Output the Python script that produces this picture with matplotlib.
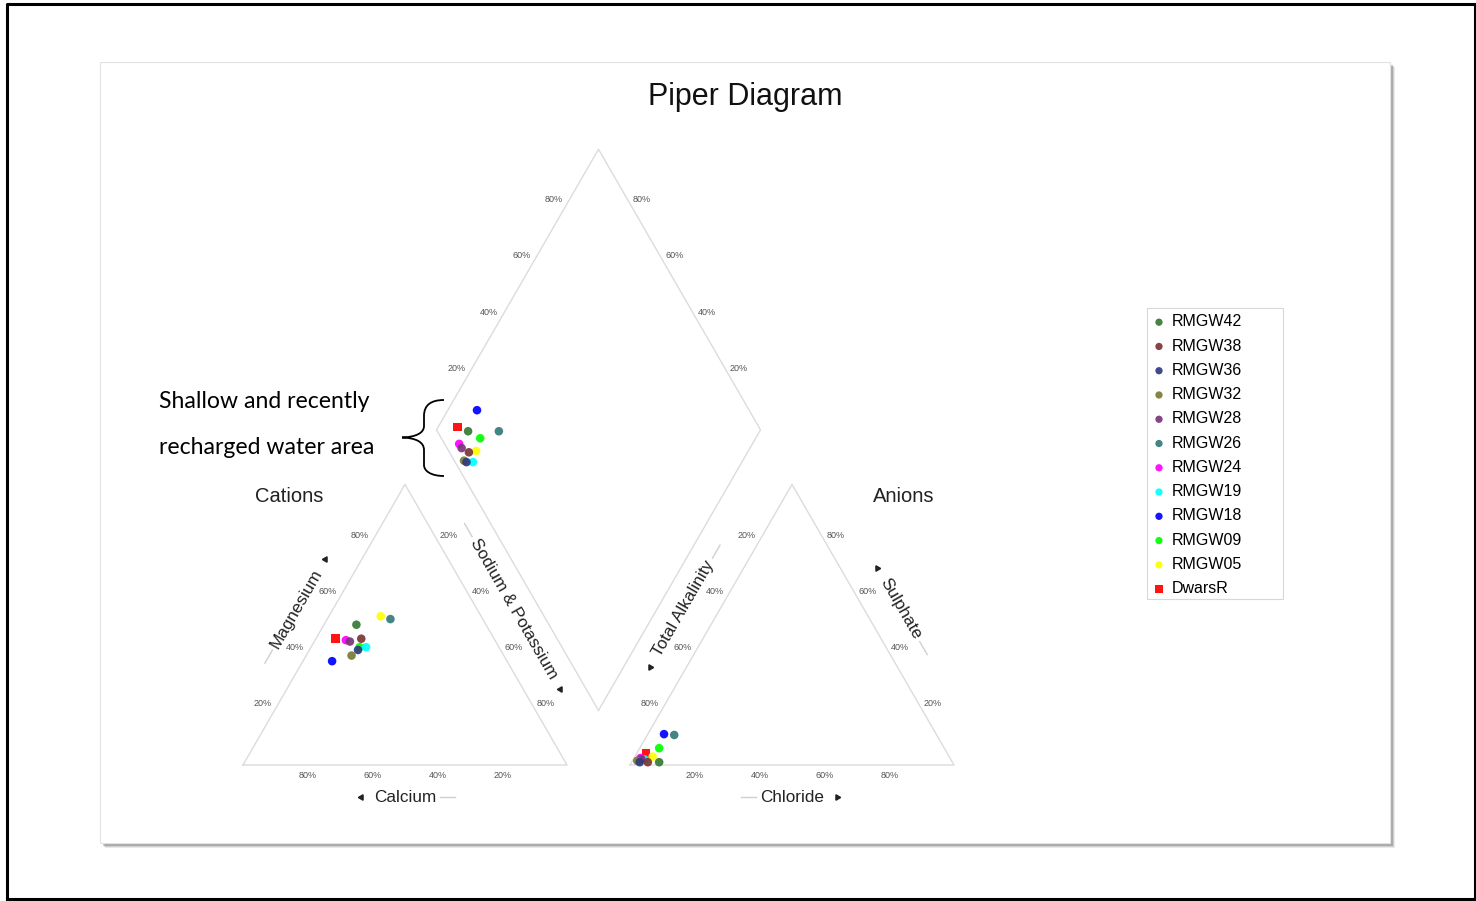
import numpy as np
import matplotlib.pyplot as plt
from matplotlib.patches import Rectangle, PathPatch
from matplotlib.path import Path
from matplotlib.textpath import TextPath
from matplotlib.font_manager import FontProperties

plt.rcParams['font.family'] = ['Liberation Sans', 'DejaVu Sans']

# sample names and colours (legend order)
samples = ['RMGW42', 'RMGW38', 'RMGW36', 'RMGW32', 'RMGW28', 'RMGW26',
           'RMGW24', 'RMGW19', 'RMGW18', 'RMGW09', 'RMGW05', 'DwarsR']
colours = ['#357a35', '#7b3535', '#2e3a80', '#7a7a35', '#7a357a', '#357a7a',
           '#ff00ff', '#00ffff', '#0000ff', '#00ff00', '#ffff00', '#ff0000']
markers = ['o'] * 11 + ['s']

# cations, % meq
ca = [40, 41, 44, 47, 45, 28.5, 46, 41, 54, 43, 31, 49]
mg = [50, 45, 41, 39, 44, 52, 44.5, 42, 37, 42, 53, 45]
nak = [10, 14, 15, 14, 11, 19.5, 9.5, 17, 9, 15, 16, 6]

# anions, % meq
alk = [90.5, 94, 96.5, 97, 95.5, 81, 95.5, 94.5, 84, 88, 91.5, 93]
so4 = [1, 1, 1, 1.5, 2, 10.7, 2.5, 2, 11, 6, 3, 4]
cl = [8.5, 5, 2.5, 1.5, 2.5, 8.3, 2, 3.5, 5, 6, 5.5, 3]

ticks = [20, 40, 60, 80]

# ---- geometry (pixels, y downwards)
SIDE = 324.0
H = SIDE * np.sqrt(3) / 2
BASE_Y = 765.0
CAT_X0 = 243.0
GAP = 63.0
AN_X0 = CAT_X0 + SIDE + GAP

cat_bl = np.array([CAT_X0, BASE_Y])
cat_br = cat_bl + [SIDE, 0]
cat_top = cat_bl + [SIDE / 2, -H]
an_bl = np.array([AN_X0, BASE_Y])
an_br = an_bl + [SIDE, 0]
an_top = an_bl + [SIDE / 2, -H]
dia_b = np.array([CAT_X0 + SIDE + GAP / 2, BASE_Y - GAP / 2 * np.sqrt(3)])
dia_l = dia_b + [-SIDE / 2, -H]
dia_r = dia_b + [SIDE / 2, -H]
dia_t = dia_b + [0, -2 * H]


def tern(a, b, c, va, vb, vc):
    a = np.asarray(a) / 100.0
    b = np.asarray(b) / 100.0
    c = np.asarray(c) / 100.0
    tot = a + b + c
    a, b, c = a / tot, b / tot, c / tot
    return np.outer(a, va) + np.outer(b, vb) + np.outer(c, vc)


cat_xy = tern(ca, mg, nak, cat_bl, cat_top, cat_br)
an_xy = tern(alk, so4, cl, an_bl, an_top, an_br)
camg = (np.array(ca) + np.array(mg)) / (np.array(ca) + np.array(mg) + np.array(nak))
so4cl = (np.array(so4) + np.array(cl)) / (np.array(alk) + np.array(so4) + np.array(cl))
dia_xy = dia_b + np.outer(camg, dia_l - dia_b) + np.outer(so4cl, dia_r - dia_b)

fig = plt.figure(figsize=(14.76, 9.01), dpi=100)
ax = fig.add_axes([0, 0, 1, 1])
ax.set_xlim(0, 1476)
ax.set_ylim(901, 0)
ax.axis('off')

# page border and panel with shadow
ax.plot([6.5, 6.5, 1475, 1475, 6.5], [899, 4, 4, 899, 899], color='black', lw=2.2, zorder=1)
for k, a in enumerate([0.12, 0.18, 0.3]):
    ax.add_patch(Rectangle((100 + 5 - k, 62 + 5 - k), 1290, 781, facecolor='#555555',
                           alpha=a, edgecolor='none', zorder=1))
ax.add_patch(Rectangle((100, 62), 1290, 781, facecolor='white', edgecolor='#e2e2e2',
                       lw=0.8, zorder=2))

edge_kw = dict(color='#dcdcdc', lw=1.0, zorder=3)
for poly in [[cat_bl, cat_top, cat_br, cat_bl], [an_bl, an_top, an_br, an_bl],
             [dia_b, dia_l, dia_t, dia_r, dia_b]]:
    poly = np.array(poly)
    ax.plot(poly[:, 0], poly[:, 1], **edge_kw)

tick_kw = dict(fontsize=6.5, color='#555555', ha='center', va='center', zorder=4)


def edge_ticks(p0, p1, offset):
    for v in ticks:
        pt = p0 + v / 100.0 * (p1 - p0) + offset
        ax.text(pt[0], pt[1], f'{v}%', **tick_kw)


edge_ticks(cat_bl, cat_top, (-12.5, -5.5))
edge_ticks(cat_top, cat_br, (11, -5.5))
edge_ticks(cat_br, cat_bl, (0, 10))
edge_ticks(an_top, an_bl, (-12.5, -5.5))
edge_ticks(an_br, an_top, (11, -5.5))
edge_ticks(an_bl, an_br, (0, 10))
edge_ticks(dia_l, dia_t, (-12.5, -5.5))
edge_ticks(dia_r, dia_t, (11, -5.5))

fp = FontProperties(family='Liberation Sans')


def axis_title(p0, p1, label, normal, size=12.3):
    d = (p1 - p0) / np.linalg.norm(p1 - p0)
    c = (p0 + p1) / 2 + 32 * np.array(normal)
    ang = np.degrees(np.arctan2(-d[1], d[0]))
    rot = ang
    if rot > 90:
        rot -= 180
    if rot <= -90:
        rot += 180
    ax.text(c[0], c[1], label, fontsize=size, color='#222222', rotation=rot,
            rotation_mode='anchor', ha='center', va='center', zorder=4)
    half = TextPath((0, 0), label, size=size, prop=fp).get_extents().width * 100 / 72 / 2
    tip = c + d * (half + 14)
    ax.plot(tip[0], tip[1], marker=(3, 0, ang - 90), ms=4.5, color='#222222', zorder=4)
    l0 = c - d * (half + 5)
    l1 = c - d * (half + 20)
    ax.plot([l0[0], l1[0]], [l0[1], l1[1]], color='#d0d0d0', lw=1, zorder=4)


s3 = np.sqrt(3) / 2
axis_title(cat_bl, cat_top, 'Magnesium', (-s3, -0.5))
axis_title(cat_top, cat_br, 'Sodium & Potassium', (s3, -0.5))
axis_title(cat_br, cat_bl, 'Calcium', (0, 1))
axis_title(an_top, an_bl, 'Total Alkalinity', (-s3, -0.5))
axis_title(an_br, an_top, 'Sulphate', (s3, -0.5))
axis_title(an_bl, an_br, 'Chloride', (0, 1))

ax.text(745, 97, 'Piper Diagram', fontsize=22, color='#111111', ha='center', va='center')
ax.text(289, 497, 'Cations', fontsize=14.5, color='#222222', ha='center', va='center')
ax.text(904, 497, 'Anions', fontsize=14.5, color='#222222', ha='center', va='center')

# data points, drawn last-to-first so the earlier samples sit on top
handles = [None] * len(samples)
for i in reversed(range(len(samples))):
    for xy in (cat_xy, an_xy, dia_xy):
        sc = ax.scatter(xy[i, 0], xy[i, 1], s=38, marker=markers[i], color=colours[i],
                        edgecolors='none', alpha=0.92, zorder=5)
        if xy is cat_xy:
            handles[i] = sc

leg = ax.legend(handles, samples, loc='upper left',
                bbox_to_anchor=(1147 / 1476, 1 - 308 / 901),
                bbox_transform=ax.transAxes, fontsize=11.5, frameon=False,
                handlelength=0.7, handletextpad=0.45, labelspacing=0.58,
                borderpad=0.4, markerscale=0.85, borderaxespad=0)
ax.add_patch(Rectangle((1147, 308), 136, 291, facecolor='none', edgecolor='#d8d8d8',
                       lw=0.8, zorder=4))

# annotation with curly brace
ann_kw = dict(fontsize=16.6, family=['Lato', 'DejaVu Sans'], color='black', ha='left', va='center')
ax.text(159, 401, 'Shallow and recently', **ann_kw)
ax.text(159, 447, 'recharged water area', **ann_kw)
verts = [(444, 400), (431, 400), (424, 405), (424, 416),
         (424, 426),
         (424, 433), (416, 437), (402, 437.5),
         (416, 438), (424, 442), (424, 450),
         (424, 465),
         (424, 471), (431, 476), (444, 476)]
codes = [Path.MOVETO, Path.CURVE4, Path.CURVE4, Path.CURVE4,
         Path.LINETO,
         Path.CURVE4, Path.CURVE4, Path.CURVE4,
         Path.CURVE4, Path.CURVE4, Path.CURVE4,
         Path.LINETO,
         Path.CURVE4, Path.CURVE4, Path.CURVE4]
ax.add_patch(PathPatch(Path(verts, codes), facecolor='none', edgecolor='black', lw=1.3, zorder=6))

fig.savefig('out.png', dpi=100)
